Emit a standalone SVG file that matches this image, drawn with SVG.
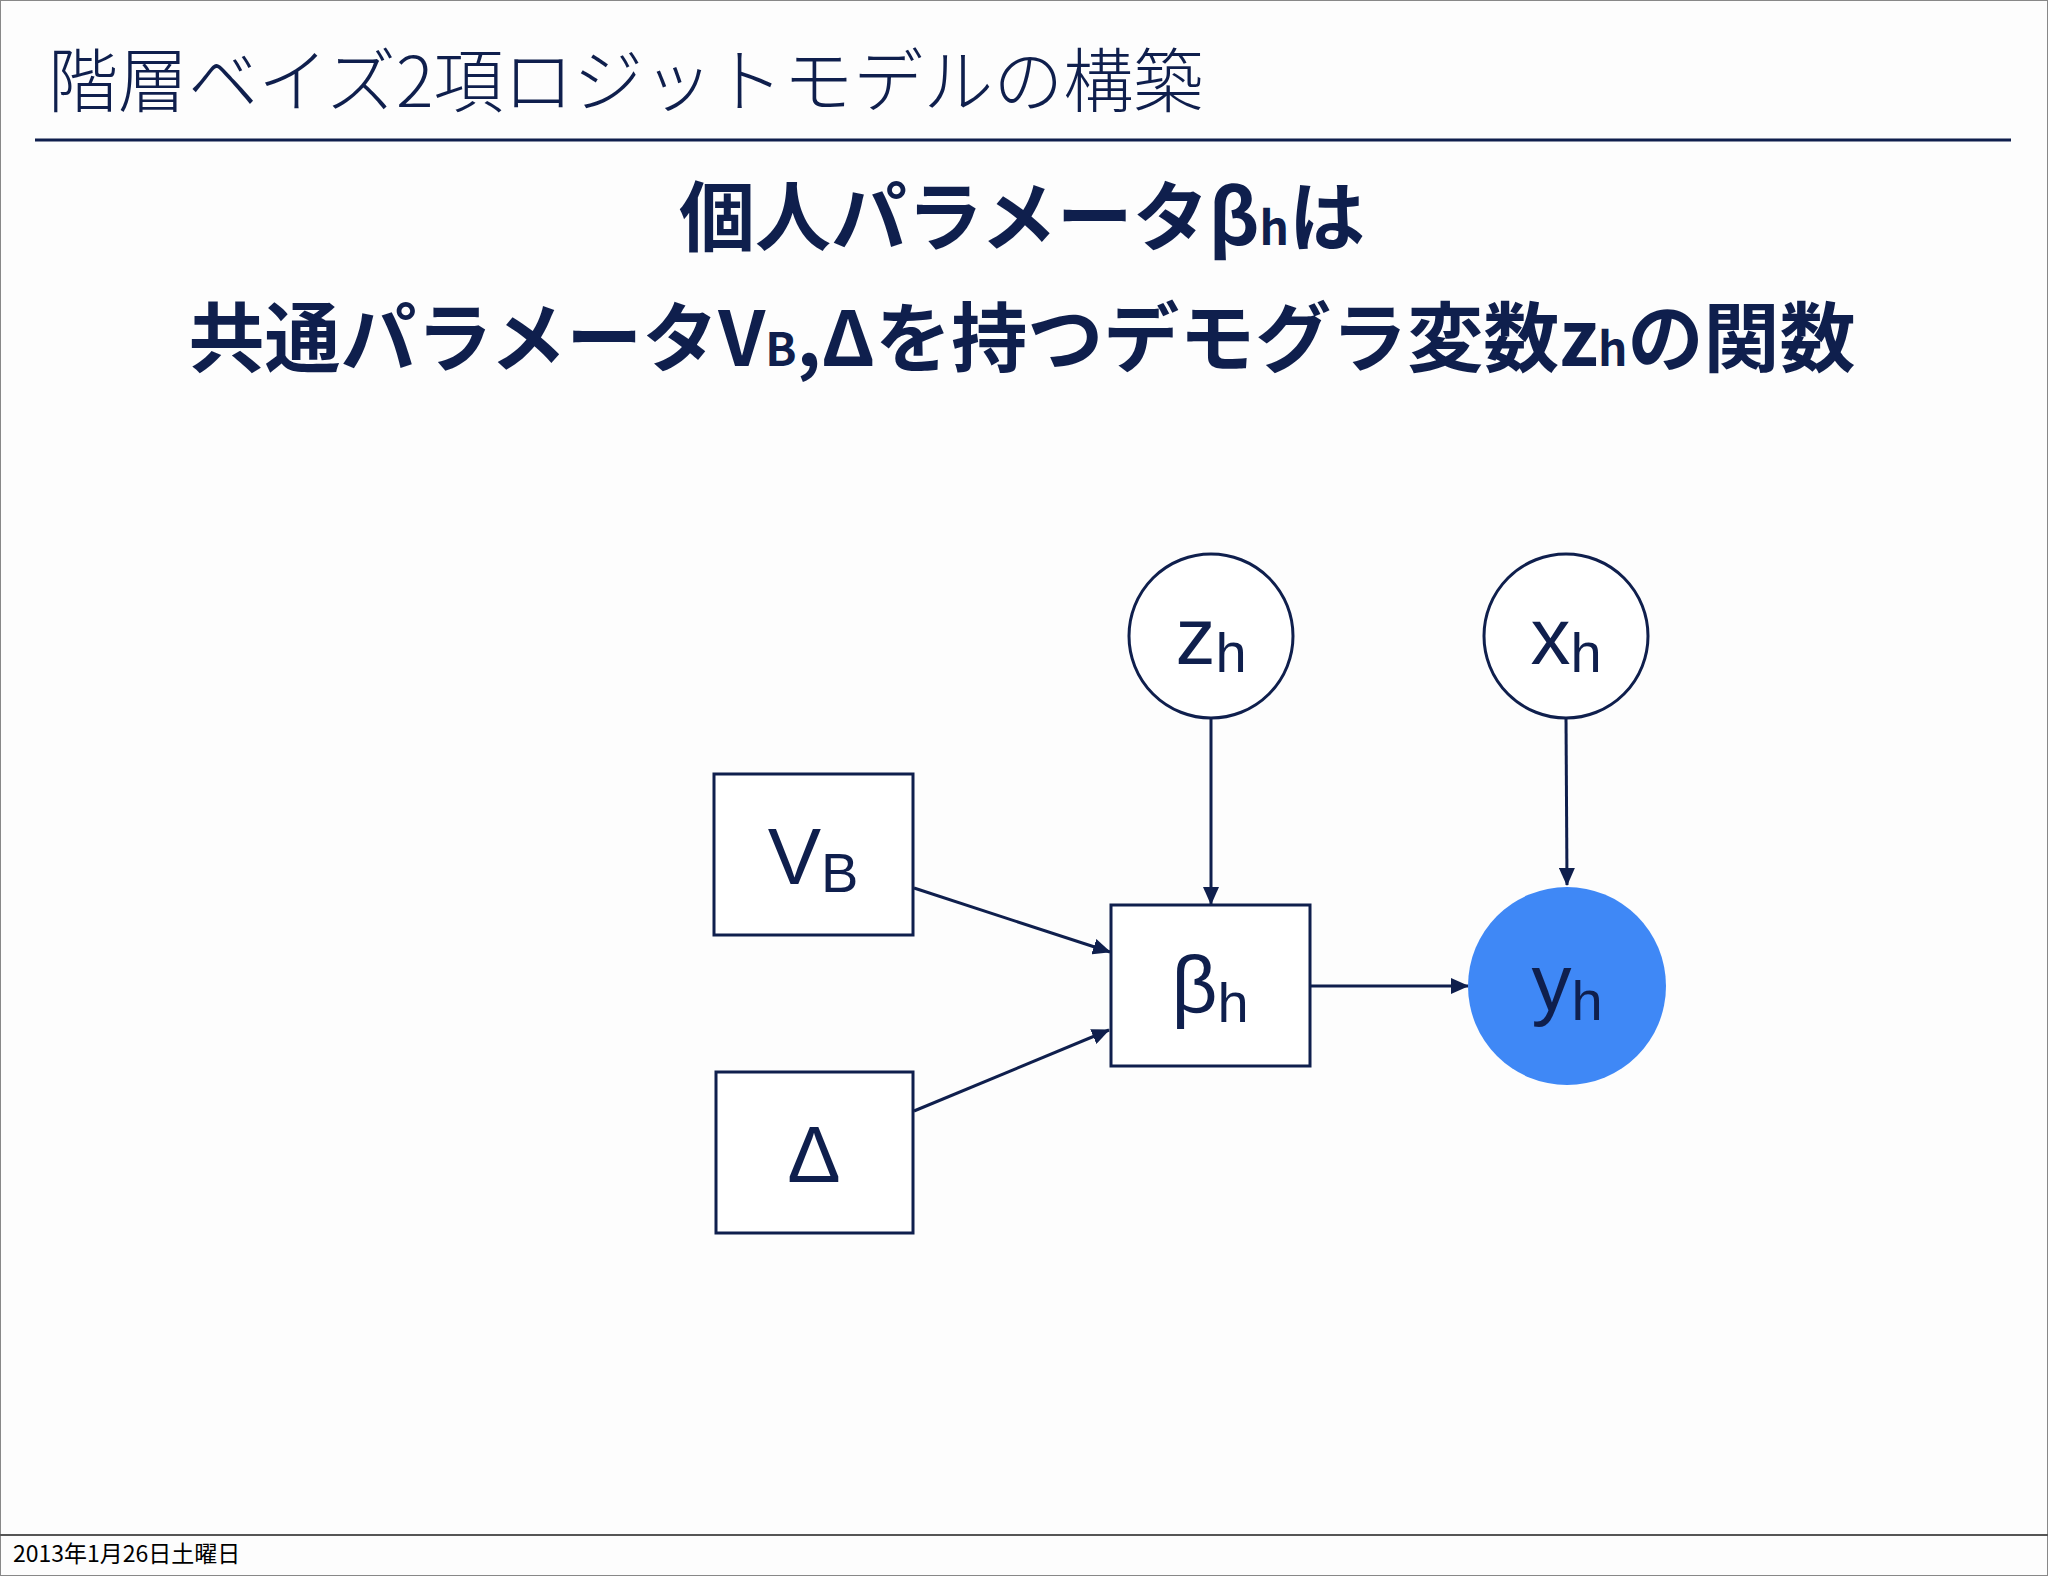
<svg xmlns="http://www.w3.org/2000/svg" width="2048" height="1576" viewBox="0 0 2048 1576">
<style>
text{font-family:"Noto Sans CJK JP","Liberation Sans",sans-serif;fill:#0f1f4d}
.n{font-family:"Liberation Sans","Noto Sans",sans-serif;font-size:80px}
.s{font-size:56px}
.box{fill:#fff;stroke:#0f1f4d;stroke-width:3}
.c{stroke:#0f1f4d;stroke-width:3;fill:none;marker-end:url(#a)}
</style>
<defs><marker id="a" viewBox="0 0 18 16" refX="17" refY="8" markerWidth="18" markerHeight="16" orient="auto" markerUnits="userSpaceOnUse"><path d="M0,0L18,8L0,16z" fill="#0f1f4d"/></marker></defs>
<rect x="0" y="0" width="2048" height="1576" fill="#fdfdfd" stroke="#888" stroke-width="2"/>
<text x="48" y="107" font-size="70" font-weight="300">階層ベイズ2項ロジットモデルの構築</text>
<line x1="35" y1="140" x2="2011" y2="140" stroke="#0f1f4d" stroke-width="3"/>
<text x="1022" y="245" font-size="76" font-weight="bold" text-anchor="middle">個人パラメータβ<tspan font-size="46">h</tspan>は</text>
<text x="1022" y="366" font-size="76" font-weight="bold" text-anchor="middle">共通パラメータV<tspan font-size="46">B</tspan>,Δを持つデモグラ変数z<tspan font-size="46">h</tspan>の関数</text>
<g id="connectors">
<path class="c" d="M914 888L1110 952"/>
<path class="c" d="M914 1111L1109 1030"/>
<path class="c" d="M1211 717L1211 904"/>
<path class="c" d="M1566 717L1567 885"/>
<path class="c" d="M1310 986L1468 986"/>
</g>
<g id="zh"><circle cx="1211" cy="636" r="82" class="box"/><text class="n" x="1211" y="664" text-anchor="middle">z<tspan class="s" dy="8">h</tspan></text></g>
<g id="xh"><circle cx="1566" cy="636" r="82" class="box"/><text class="n" x="1566" y="664" text-anchor="middle">x<tspan class="s" dy="8">h</tspan></text></g>
<g id="VB"><rect x="714" y="774" width="199" height="161" class="box"/><text class="n" x="813" y="884" text-anchor="middle">V<tspan class="s" dy="8">B</tspan></text></g>
<g id="Delta"><rect x="716" y="1072" width="197" height="161" class="box"/><text class="n" x="814" y="1182" text-anchor="middle">Δ</text></g>
<g id="beta"><rect x="1111" y="905" width="199" height="161" class="box"/><text class="n" x="1210" y="1012" text-anchor="middle">β<tspan class="s" dy="10">h</tspan></text></g>
<g id="yh"><circle cx="1567" cy="986" r="99" fill="#3f88f6"/><text class="n" x="1567" y="1010" text-anchor="middle">y<tspan class="s" dy="10">h</tspan></text></g>
<line x1="0" y1="1535" x2="2048" y2="1535" stroke="#555" stroke-width="2"/>
<text x="13" y="1562" font-size="23" style="fill:#000">2013年1月26日土曜日</text>
</svg>
